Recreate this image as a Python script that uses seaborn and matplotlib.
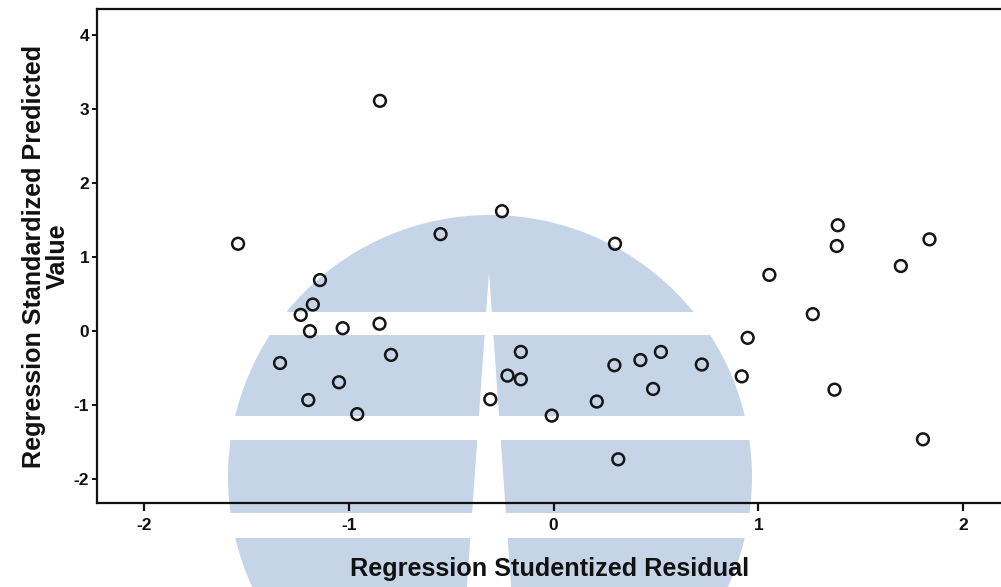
import matplotlib
matplotlib.use("Agg")
import matplotlib.pyplot as plt
from matplotlib.patches import Circle, Rectangle, Polygon
import seaborn as sns
import pandas as pd

# Regression diagnostics: studentized residual vs standardized predicted value
studentized_residual = [
    -1.541, -0.848, -0.252, -0.552, 0.300, 1.388, 1.383, 1.696, 1.836, 1.054,
    1.266, 0.948, 0.919, 1.372, 1.804, -1.141, -1.176, -1.235, -1.190, -1.030,
    -0.850, -1.336, -0.794, -1.048, -1.198, -0.959, -0.309, -0.225, -0.160, -0.160,
    -0.009, 0.211, 0.297, 0.316, 0.424, 0.524, 0.486, 0.724,
]
standardized_predicted = [
    1.18, 3.11, 1.62, 1.31, 1.18, 1.43, 1.15, 0.88, 1.24, 0.76,
    0.23, -0.09, -0.61, -0.79, -1.46, 0.69, 0.36, 0.22, 0.00, 0.04,
    0.10, -0.43, -0.32, -0.69, -0.93, -1.12, -0.92, -0.60, -0.28, -0.65,
    -1.14, -0.95, -0.46, -1.73, -0.39, -0.28, -0.78, -0.45,
]
x_ticks = [-2, -1, 0, 1, 2]
y_ticks = [-2, -1, 0, 1, 2, 3, 4]

df = pd.DataFrame({"resid": studentized_residual, "pred": standardized_predicted})

sns.set_style("ticks")
plt.rcParams["font.family"] = ["Liberation Sans", "DejaVu Sans"]
plt.rcParams["font.weight"] = "bold"

W, H = 1001, 587
fig = plt.figure(figsize=(W / 100, H / 100), dpi=100)

# Background emblem drawn in pixel coordinates behind the chart
bg = fig.add_axes([0, 0, 1, 1], zorder=0)
bg.set_xlim(0, W)
bg.set_ylim(H, 0)
bg.axis("off")
emblem = "#c6d4e7"
bg.add_patch(Circle((490, 477), 262, color=emblem, lw=0))
for y0, y1 in [(312, 335), (416, 440), (513, 538)]:
    bg.add_patch(Rectangle((200, y0), 600, y1 - y0, color="white", lw=0))
bg.add_patch(Polygon([(489, 272), (466, 600), (512, 600)], closed=True,
                     color="white", lw=0))

left, right, top, bottom = 97, 1003, 9, 503
ax = fig.add_axes([left / W, 1 - bottom / H, (right - left) / W, (bottom - top) / H],
                  zorder=1)
ax.set_facecolor("none")

sns.scatterplot(data=df, x="resid", y="pred", ax=ax, marker="o", s=72,
                facecolors="none", edgecolor="#151515", linewidth=1.8,
                legend=False, zorder=3)

ax.set_xlim(-2.23, 2.195)
ax.set_ylim(-2.32, 4.35)
ax.set_xticks(x_ticks)
ax.set_yticks(y_ticks)
ax.set_xticklabels([str(v) for v in x_ticks])
ax.set_yticklabels([str(v) for v in y_ticks])

for sp in ax.spines.values():
    sp.set_linewidth(1.6)
    sp.set_color("#111111")
ax.tick_params(axis="x", direction="out", length=6, width=1.6, pad=5,
               labelsize=12.5, colors="#111111")
ax.tick_params(axis="y", direction="out", length=3.5, width=1.4, pad=2,
               labelsize=12.5, colors="#111111")
for lab in ax.get_xticklabels() + ax.get_yticklabels():
    lab.set_fontweight("bold")

ax.set_xlabel("Regression Studentized Residual", fontsize=18.2, fontweight="bold",
              labelpad=17, color="#111111")
ax.set_ylabel("Regression Standardized Predicted\nValue", fontsize=18.1,
              fontweight="bold", labelpad=3, linespacing=1.0, color="#111111")

fig.savefig("out.png", dpi=100)
